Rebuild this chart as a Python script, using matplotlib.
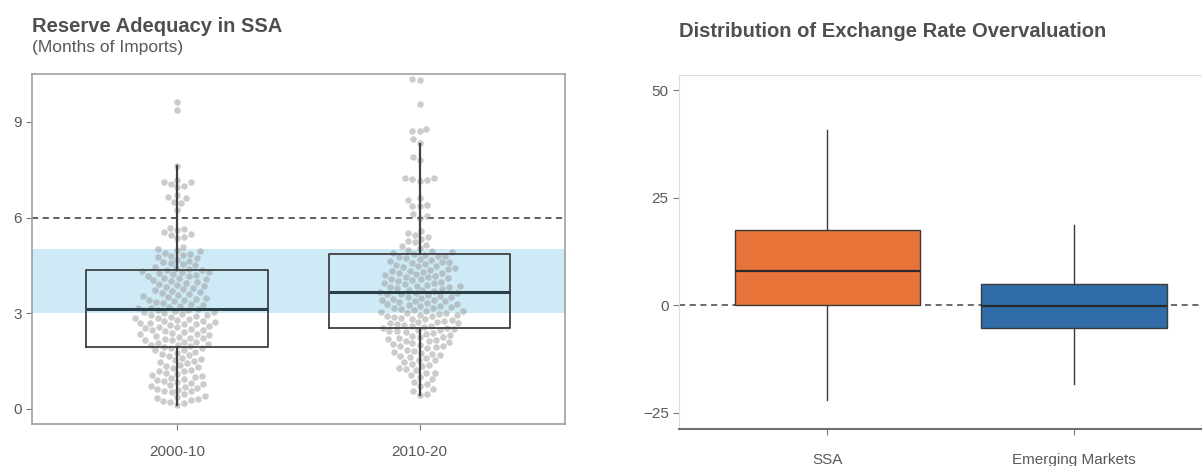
import numpy as np
import matplotlib
matplotlib.use("Agg")
import matplotlib.pyplot as plt

plt.rcParams['font.family'] = ['Liberation Sans', 'DejaVu Sans']

# --- data: reserve adequacy (months of imports) ---
left_groups = ['2000-10', '2010-20']
reserves_2000_10 = [
    0.13, 0.19, 0.21, 0.26, 0.27, 0.31, 0.35, 0.38, 0.41, 0.47,
    0.52, 0.55, 0.56, 0.61, 0.63, 0.66, 0.70, 0.72, 0.74, 0.79, 0.81, 0.84, 0.88, 0.90, 0.95, 0.97,
    1.01, 1.03, 1.07, 1.10, 1.12, 1.18, 1.20, 1.23, 1.29, 1.31, 1.36, 1.38, 1.43, 1.47,
    1.50, 1.55, 1.58, 1.60, 1.66, 1.69, 1.73, 1.77, 1.80, 1.84, 1.86, 1.90, 1.92, 1.95, 1.97,
    2.00, 2.02, 2.04, 2.08, 2.10, 2.11, 2.15, 2.17, 2.19, 2.22, 2.24, 2.27, 2.30, 2.31, 2.34,
    2.36, 2.39, 2.42, 2.45, 2.46, 2.49,
    2.52, 2.53, 2.57, 2.58, 2.60, 2.63, 2.65, 2.67, 2.70, 2.71, 2.74, 2.76, 2.77, 2.80, 2.83,
    2.85, 2.86, 2.89, 2.91, 2.94, 2.95, 2.98, 3.01, 3.03, 3.05, 3.07, 3.09, 3.10,
    3.13, 3.15, 3.18, 3.20, 3.24, 3.27, 3.30, 3.33, 3.35, 3.38, 3.41, 3.43, 3.46, 3.48, 3.50,
    3.53, 3.57, 3.60, 3.62, 3.66, 3.70, 3.72, 3.75, 3.79, 3.82, 3.85, 3.88, 3.91, 3.95, 3.98,
    4.00, 4.04, 4.07, 4.10, 4.12, 4.16, 4.18, 4.21, 4.23, 4.26, 4.28, 4.30, 4.32, 4.35, 4.37,
    4.40, 4.43, 4.46, 4.50,
    4.53, 4.57, 4.60, 4.64, 4.68, 4.72, 4.76, 4.80, 4.83, 4.87, 4.90, 4.94, 4.97, 5.02,
    5.08, 5.35, 5.40, 5.45, 5.50, 5.55, 5.60, 5.65, 5.68,
    6.25, 6.45, 6.50, 6.60, 6.65, 6.70, 6.95, 7.00, 7.05, 7.10, 7.12, 7.18, 7.62,
    9.38, 9.62,
]
reserves_2010_20 = [
    0.44, 0.48, 0.55, 0.62, 0.71, 0.77, 0.86, 0.93,
    1.01, 1.06, 1.12, 1.14, 1.21, 1.25, 1.27, 1.34, 1.38, 1.41, 1.47,
    1.52, 1.55, 1.59, 1.63, 1.66, 1.70, 1.73, 1.77, 1.79, 1.83, 1.86, 1.90, 1.93, 1.96, 1.98,
    2.01, 2.04, 2.06, 2.09, 2.12, 2.14, 2.17, 2.20, 2.21, 2.25, 2.27, 2.30, 2.33, 2.35, 2.38,
    2.40, 2.43, 2.45, 2.47, 2.49,
    2.51, 2.53, 2.55, 2.58, 2.60, 2.61, 2.64, 2.66, 2.68, 2.70, 2.73, 2.74, 2.77, 2.79, 2.81,
    2.83, 2.85, 2.88, 2.90, 2.92, 2.94, 2.96, 2.98, 3.00,
    3.02, 3.04, 3.06, 3.08, 3.11, 3.13, 3.15, 3.17, 3.19, 3.22, 3.24, 3.26, 3.28, 3.30, 3.32,
    3.35, 3.37, 3.39, 3.41, 3.43, 3.46, 3.48, 3.50,
    3.52, 3.54, 3.56, 3.59, 3.61, 3.63, 3.65, 3.67, 3.70, 3.72, 3.74, 3.76, 3.78, 3.81, 3.83,
    3.85, 3.87, 3.90, 3.92, 3.94, 3.96, 3.99,
    4.01, 4.03, 4.06, 4.08, 4.10, 4.13, 4.15, 4.17, 4.20, 4.22, 4.25, 4.27, 4.29, 4.32, 4.34,
    4.37, 4.39, 4.42, 4.44, 4.47, 4.49,
    4.52, 4.55, 4.57, 4.60, 4.62, 4.65, 4.68, 4.70, 4.73, 4.76, 4.78, 4.81, 4.84, 4.86, 4.89,
    4.92, 4.95, 4.98,
    5.05, 5.10, 5.15, 5.22, 5.28, 5.32, 5.40, 5.45, 5.52, 5.58,
    6.00, 6.05, 6.12, 6.35, 6.37, 6.40, 6.55, 6.60,
    7.15, 7.18, 7.20, 7.23, 7.25,
    7.82, 7.90, 8.35, 8.45, 8.70, 8.72, 8.78, 9.55, 10.30, 10.35,
]
# box statistics
left_q1 = [1.93, 2.55]
left_med = [3.12, 3.66]
left_q3 = [4.36, 4.87]
left_whislo = [0.13, 0.44]
left_whishi = [7.62, 8.30]
band_low, band_high = 3.0, 5.0
benchmark = 6.0

# --- data: exchange rate overvaluation ---
right_groups = ['SSA', 'Emerging Markets']
right_q1 = [0.0, -5.3]
right_med = [8.0, -0.2]
right_q3 = [17.6, 5.0]
right_whislo = [-22.1, -18.4]
right_whishi = [40.7, 18.6]
right_colors = ['#E8743A', '#2F6CA8']

tick_col = '#595959'
title_col = '#4F4F4F'


def swarm_x(ax, xc, vals, dmin):
    """Beeswarm layout: x positions so that dots (dmin px apart) do not pile up."""
    vals = np.asarray(vals, dtype=float)
    pts = ax.transData.transform(np.column_stack([np.full(len(vals), xc), vals]))
    ys = pts[:, 1]
    offs = np.zeros(len(vals))
    px_l, py_l = [], []
    side = 1
    for i in np.argsort(ys):
        y = ys[i]
        cands = [0.0]
        blocks = []
        for px, py in zip(px_l, py_l):
            dy = abs(py - y)
            if dy < dmin:
                w = np.sqrt(dmin ** 2 - dy ** 2)
                blocks.append((px - w, px + w))
                cands += [px - w, px + w]
        cands = sorted(cands, key=lambda c: (round(abs(c), 3), side * c))
        for c in cands:
            if all(not (lo + 1e-6 < c < hi - 1e-6) for lo, hi in blocks):
                offs[i] = c
                break
        side = -side
        px_l.append(offs[i])
        py_l.append(y)
    back = ax.transData.inverted().transform(np.column_stack([pts[:, 0] + offs, ys]))
    return back[:, 0]


fig = plt.figure(figsize=(12.02, 4.66), dpi=100)

# ---------------- left panel ----------------
ax1 = fig.add_axes([0.0266, 0.0895, 0.4434, 0.7517])
ax1.set_xlim(0.4, 2.6)
ax1.set_ylim(-0.48, 10.5)
ax1.axhspan(band_low, band_high, color='#CDEAF6', zorder=0, lw=0)
ax1.axhline(benchmark, color='#333333', lw=1.1, ls=(0, (4, 3)), zorder=1)

for pos, vals in zip([1, 2], [reserves_2000_10, reserves_2010_20]):
    xs = swarm_x(ax1, pos, vals, 7.3)
    ax1.scatter(xs, vals, s=22, color='#9a9a9a', alpha=0.5, lw=0, zorder=2)

stats1 = [dict(med=m, q1=a, q3=b, whislo=lo, whishi=hi, fliers=[], label=g)
          for g, a, m, b, lo, hi in zip(left_groups, left_q1, left_med, left_q3,
                                        left_whislo, left_whishi)]
ax1.bxp(stats1, positions=[1, 2], widths=0.75, showfliers=False, showcaps=False,
        boxprops=dict(color='#404040', lw=1.3),
        whiskerprops=dict(color='#404040', lw=1.6),
        medianprops=dict(color='#2B3F46', lw=2.2), zorder=3)
ax1.set_xticks([1, 2])
ax1.set_xticklabels(left_groups)
ax1.set_yticks([0, 3, 6, 9])
for s in ax1.spines.values():
    s.set_color('#A0A0A0')
    s.set_linewidth(1.2)
ax1.tick_params(axis='both', colors='#7a7a7a', labelcolor=tick_col, labelsize=11, length=4)
ax1.tick_params(axis='x', pad=11)

fig.text(0.0266, 1 - 32 / 466, 'Reserve Adequacy in SSA', fontsize=14.5,
         fontweight='bold', color=title_col, va='baseline')
fig.text(0.0266, 1 - 52 / 466, '(Months of Imports)', fontsize=12.5,
         color=tick_col, va='baseline')

# ---------------- right panel ----------------
ax2 = fig.add_axes([0.565, 0.0788, 0.4517, 0.7603])
ax2.set_xlim(0.4, 2.6)
ax2.set_ylim(-28.9, 53.6)
ax2.axhline(0, color='#444444', lw=1.1, ls=(0, (4, 3)), zorder=1)
stats2 = [dict(med=m, q1=a, q3=b, whislo=lo, whishi=hi, fliers=[], label=g)
          for g, a, m, b, lo, hi in zip(right_groups, right_q1, right_med, right_q3,
                                        right_whislo, right_whishi)]
bp = ax2.bxp(stats2, positions=[1, 2], widths=0.75, showfliers=False, showcaps=False,
             patch_artist=True,
             boxprops=dict(edgecolor='#3a3a3a', lw=1.0),
             whiskerprops=dict(color='#3a3a3a', lw=1.0),
             medianprops=dict(color='#2a2a2a', lw=1.6), zorder=3)
for patch, c in zip(bp['boxes'], right_colors):
    patch.set_facecolor(c)
ax2.set_xticks([1, 2])
ax2.set_xticklabels(right_groups)
ax2.set_yticks([-25, 0, 25, 50])
ax2.spines['right'].set_visible(False)
ax2.spines['left'].set_color('#DCDCDC')
ax2.spines['top'].set_color('#DCDCDC')
ax2.spines['bottom'].set_color('#6E6E6E')
ax2.spines['bottom'].set_linewidth(1.5)
ax2.tick_params(axis='both', colors='#7a7a7a', labelcolor=tick_col, labelsize=11, length=4)
ax2.tick_params(axis='x', pad=13)

fig.text(0.565, 1 - 37 / 466, 'Distribution of Exchange Rate Overvaluation', fontsize=14.5,
         fontweight='bold', color=title_col, va='baseline')

fig.savefig('out.png', dpi=100)
